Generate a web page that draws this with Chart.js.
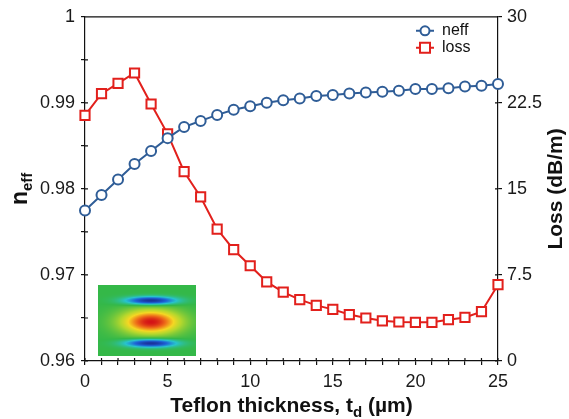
<!DOCTYPE html>
<html lang="en">
<head>
    <meta charset="UTF-8">
    <title>neff and loss vs Teflon thickness</title>
    <script src="https://cdn.jsdelivr.net/npm/chart.js"></script>
    <style>
        body { margin: 0; background: #fff; }
        canvas { display: block; }
    </style>
</head>
<body>
    <canvas id="modeChart" width="569" height="419"></canvas>
    <script>
        // data
        const thickness = [0, 1, 2, 3, 4, 5, 6, 7, 8, 9, 10, 11, 12, 13, 14, 15, 16, 17, 18, 19, 20, 21, 22, 23, 24, 25];
        const neff = [0.9775, 0.9793, 0.9811, 0.9829, 0.9844, 0.9859, 0.9872, 0.9879, 0.9886, 0.9892, 0.9896, 0.9900, 0.9903,
                      0.9905, 0.9908, 0.9909, 0.9911, 0.9912, 0.9913, 0.9914, 0.9916, 0.9916, 0.9917, 0.9919, 0.9920, 0.9922];
        const loss = [21.4, 23.3, 24.2, 25.1, 22.4, 19.8, 16.5, 14.3, 11.5, 9.7, 8.3, 6.9, 6.0,
                      5.35, 4.85, 4.5, 4.05, 3.75, 3.5, 3.4, 3.37, 3.37, 3.6, 3.8, 4.3, 6.65];
        const neffTicks = [0.96, 0.97, 0.98, 0.99, 1];
        const lossTicks = [0, 7.5, 15, 22.5, 30];

        const blue = "#2f5d97";
        const red = "#e2201c";
        const font = "'Liberation Sans', Arial, sans-serif";

        // inset mode picture, placed in data units (x in um, y in neff)
        const insetBox = { x0: 0.8, x1: 6.7, y0: 0.9688, y1: 0.9606 };

        function jet(f) {
            const stops = [
                [-1, [25, 35, 140]], [-0.6, [30, 100, 215]], [-0.3, [40, 195, 205]], [0, [52, 184, 72]],
                [0.35, [180, 215, 45]], [0.55, [245, 215, 35]], [0.78, [238, 110, 25]], [1, [212, 18, 22]]
            ];
            for (let i = 1; i < stops.length; i++) {
                if (f <= stops[i][0]) {
                    let a = stops[i - 1], b = stops[i];
                    let t = (f - a[0]) / (b[0] - a[0]);
                    return a[1].map((c, k) => Math.round(c + (b[1][k] - c) * t));
                }
            }
            return stops[stops.length - 1][1];
        }

        const insetPlugin = {
            id: "inset",
            beforeDatasetsDraw(chart) {
                let xs = chart.scales.x, ys = chart.scales.y;
                let l = Math.round(xs.getPixelForValue(insetBox.x0));
                let r = Math.round(xs.getPixelForValue(insetBox.x1));
                let t = Math.round(ys.getPixelForValue(insetBox.y0));
                let b = Math.round(ys.getPixelForValue(insetBox.y1));
                let w = r - l, h = b - t;
                let img = chart.ctx.createImageData(w, h);
                for (let j = 0; j < h; j++) {
                    for (let i = 0; i < w; i++) {
                        let u = (i + 0.5) / w * 2 - 1.08;
                        let v = (j + 0.5) / h * 2 - 1.04;
                        let core = Math.exp(-Math.pow(u / 0.6, 2) - Math.pow(v / 0.34, 2));
                        let side = Math.exp(-Math.pow(u / 0.5, 2)) * Math.exp(-Math.pow((Math.abs(v) - 0.6) / 0.11, 2));
                        let f = core - 0.95 * side;
                        let c = jet(Math.max(-1, Math.min(1, f)));
                        let k = (j * w + i) * 4;
                        img.data[k] = c[0]; img.data[k + 1] = c[1]; img.data[k + 2] = c[2]; img.data[k + 3] = 255;
                    }
                }
                chart.ctx.putImageData(img, l, t);
            }
        };

        const framePlugin = {
            id: "frame",
            afterDraw(chart) {
                let ctx = chart.ctx, a = chart.chartArea;
                let xs = chart.scales.x, ys = chart.scales.y, ys1 = chart.scales.y1;
                ctx.save();
                ctx.strokeStyle = "#111";
                ctx.lineWidth = 1.2;
                ctx.beginPath();
                ctx.moveTo(a.left, a.top);
                ctx.lineTo(a.right, a.top);
                // inward halves of the ticks
                xs.ticks.forEach(tk => {
                    let p = xs.getPixelForValue(tk.value);
                    ctx.moveTo(p, a.bottom);
                    ctx.lineTo(p, a.bottom - 3);
                });
                ys.ticks.forEach(tk => {
                    let p = ys.getPixelForValue(tk.value);
                    ctx.moveTo(a.left, p);
                    ctx.lineTo(a.left + 3, p);
                });
                ys1.ticks.forEach(tk => {
                    let p = ys1.getPixelForValue(tk.value);
                    ctx.moveTo(a.right, p);
                    ctx.lineTo(a.right - 3, p);
                });
                ctx.stroke();

                // axis titles with subscripts
                ctx.fillStyle = "#111";
                ctx.textBaseline = "alphabetic";

                // x title
                let parts = [["Teflon thickness, t", "bold 21px " + font, 0], ["d", "bold 15px " + font, 5], [" (\u00b5m)", "bold 21px " + font, 0]];
                let total = 0;
                parts.forEach(p => { ctx.font = p[1]; total += ctx.measureText(p[0]).width; });
                let cx = (a.left + a.right) / 2 - total / 2;
                ctx.textAlign = "left";
                parts.forEach(p => {
                    ctx.font = p[1];
                    ctx.fillText(p[0], cx, 412 + p[2]);
                    cx += ctx.measureText(p[0]).width;
                });

                // left title n_eff
                ctx.save();
                ctx.translate(27, (a.top + a.bottom) / 2);
                ctx.rotate(-Math.PI / 2);
                ctx.font = "bold 23px " + font;
                let wn = ctx.measureText("n").width;
                ctx.font = "bold 15px " + font;
                let we = ctx.measureText("eff").width;
                let sx = -(wn + we) / 2;
                ctx.font = "bold 23px " + font;
                ctx.fillText("n", sx, 0);
                ctx.font = "bold 15px " + font;
                ctx.fillText("eff", sx + wn, 5);
                ctx.restore();

                // right title
                ctx.save();
                ctx.translate(562, (a.top + a.bottom) / 2);
                ctx.rotate(-Math.PI / 2);
                ctx.font = "bold 21px " + font;
                ctx.textAlign = "center";
                ctx.fillText("Loss (dB/m)", 0, 0);
                ctx.restore();

                // legend
                let lx = a.right - 73, ly = a.top + 14;
                ctx.lineWidth = 2;
                ctx.strokeStyle = blue;
                ctx.fillStyle = "#fff";
                ctx.beginPath();
                ctx.arc(lx, ly, 4.5, 0, Math.PI * 2);
                ctx.fill();
                ctx.stroke();
                ctx.beginPath();
                ctx.moveTo(lx - 9, ly); ctx.lineTo(lx - 4.5, ly);
                ctx.moveTo(lx + 4.5, ly); ctx.lineTo(lx + 9, ly);
                ctx.stroke();
                ctx.strokeStyle = red;
                ctx.beginPath();
                ctx.rect(lx - 5, ly + 17 - 5, 10, 10);
                ctx.fill();
                ctx.stroke();
                ctx.beginPath();
                ctx.moveTo(lx - 9, ly + 17); ctx.lineTo(lx - 5, ly + 17);
                ctx.moveTo(lx + 5, ly + 17); ctx.lineTo(lx + 9, ly + 17);
                ctx.stroke();
                ctx.fillStyle = "#111";
                ctx.font = "16px " + font;
                ctx.textAlign = "left";
                ctx.textBaseline = "middle";
                ctx.fillText("neff", lx + 17, ly);
                ctx.fillText("loss", lx + 17, ly + 17);
                ctx.restore();
            }
        };

        let ctx = document.getElementById("modeChart").getContext("2d");
        let chart = new Chart(ctx, {
            type: "line",
            data: {
                datasets: [{
                    label: "neff",
                    data: thickness.map((t, i) => ({ x: t, y: neff[i] })),
                    yAxisID: "y",
                    borderColor: blue,
                    borderWidth: 2,
                    pointStyle: "circle",
                    pointRadius: 5,
                    pointBorderWidth: 2,
                    pointBackgroundColor: "#fff",
                    pointBorderColor: blue,
                    tension: 0,
                    clip: false
                }, {
                    label: "loss",
                    data: thickness.map((t, i) => ({ x: t, y: loss[i] })),
                    yAxisID: "y1",
                    borderColor: red,
                    borderWidth: 2,
                    pointStyle: "rect",
                    pointRadius: 6.5,
                    pointBorderWidth: 2,
                    pointBackgroundColor: "#fff",
                    pointBorderColor: red,
                    tension: 0,
                    clip: false
                }]
            },
            options: {
                responsive: false,
                animation: false,
                layout: { padding: { top: 16, left: 0, right: 0, bottom: 0 } },
                plugins: {
                    legend: { display: false },
                    tooltip: { enabled: false }
                },
                scales: {
                    x: {
                        type: "linear",
                        min: 0,
                        max: 25,
                        afterFit(scale) { scale.height = 58; },
                        border: { color: "#111", width: 1.2 },
                        grid: { drawOnChartArea: false, tickLength: 4, color: "#111", lineWidth: 1.2 },
                        ticks: {
                            stepSize: 1,
                            autoSkip: false,
                            maxRotation: 0,
                            padding: 6,
                            color: "#1a1a1a",
                            font: { family: font, size: 18 },
                            callback: v => (v % 5 === 0 ? String(v) : "")
                        }
                    },
                    y: {
                        position: "left",
                        min: neffTicks[0],
                        max: neffTicks[neffTicks.length - 1],
                        afterFit(scale) { scale.width = 85; },
                        border: { color: "#111", width: 1.2 },
                        grid: { drawOnChartArea: false, tickLength: 4, color: "#111", lineWidth: 1.2 },
                        ticks: {
                            stepSize: 0.005,
                            autoSkip: false,
                            padding: 6,
                            color: "#1a1a1a",
                            font: { family: font, size: 18 },
                            callback: v => {
                                let m = Math.round(v * 1000);
                                let hit = neffTicks.find(t => Math.round(t * 1000) === m);
                                return hit !== undefined ? String(hit) : "";
                            }
                        }
                    },
                    y1: {
                        position: "right",
                        min: lossTicks[0],
                        max: lossTicks[lossTicks.length - 1],
                        afterFit(scale) { scale.width = 71; },
                        border: { color: "#111", width: 1.2 },
                        grid: { drawOnChartArea: false, tickLength: 4, color: "#111", lineWidth: 1.2 },
                        afterBuildTicks(scale) { scale.ticks = lossTicks.map(v => ({ value: v })); },
                        ticks: {
                            padding: 5,
                            color: "#1a1a1a",
                            font: { family: font, size: 18 },
                            callback: v => String(v)
                        }
                    }
                }
            },
            plugins: [insetPlugin, framePlugin]
        });
    </script>
</body>
</html>
